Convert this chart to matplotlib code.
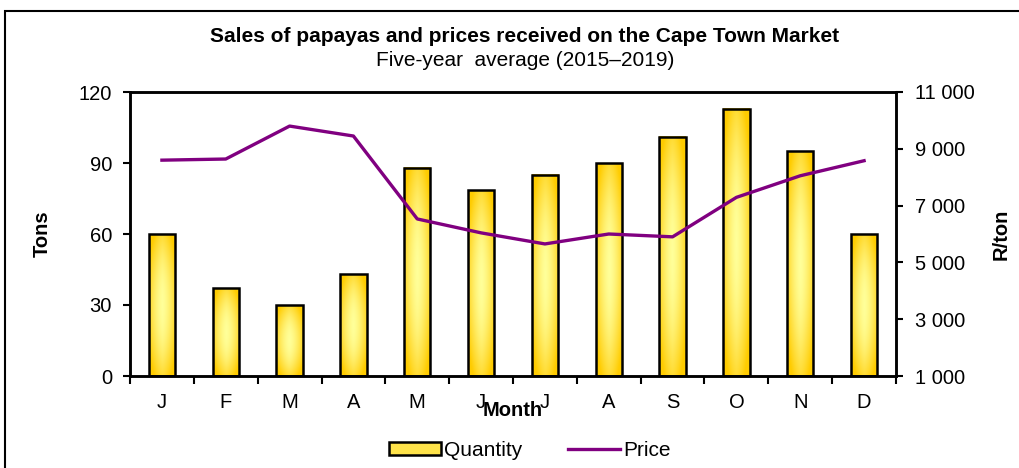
import numpy as np
import matplotlib
matplotlib.use("Agg")
import matplotlib.pyplot as plt
from matplotlib.colors import LinearSegmentedColormap
from matplotlib.patches import Rectangle
from matplotlib.lines import Line2D
from matplotlib.patches import Patch

plt.rcParams['font.family'] = ['Liberation Sans', 'DejaVu Sans']

months = ['J', 'F', 'M', 'A', 'M', 'J', 'J', 'A', 'S', 'O', 'N', 'D']
quantity = [60, 37, 30, 43, 88, 78.5, 85, 90, 101, 113, 95, 60]
price = [8600, 8640, 9800, 9450, 6530, 6040, 5650, 6000, 5900, 7290, 8050, 8580]
left_ticks = [0, 30, 60, 90, 120]
right_ticks = [1000, 3000, 5000, 7000, 9000, 11000]
right_labels = ['1 000', '3 000', '5 000', '7 000', '9 000', '11 000']

FS = 14.5

fig = plt.figure(figsize=(10.19, 4.68), dpi=100)
ax = fig.add_axes([130/1019, 1-376/468, (896-130)/1019, (376-92)/468])
ax2 = ax.twinx()
ax.set_zorder(1)
ax2.set_zorder(2)
ax.patch.set_visible(False)

x = np.arange(len(months))
bars = ax.bar(x, quantity, width=0.41, facecolor='none', edgecolor='black', linewidth=1.8, zorder=3)

cmap = LinearSegmentedColormap.from_list('gold', ['#FFFF99', '#FFE34A', '#FFCC00'])
u = np.linspace(-1, 1, 40)
v = np.linspace(-1, 1, 80)
U, V = np.meshgrid(u, v)
grad = np.clip(0.7 * np.abs(U) ** 1.5 + 0.65 * np.abs(V) ** 2, 0, 1)
for b in bars:
    x0, y0 = b.get_x(), b.get_y()
    w, h = b.get_width(), b.get_height()
    ax.imshow(grad, cmap=cmap, vmin=0, vmax=1, extent=[x0, x0 + w, y0, y0 + h],
              aspect='auto', zorder=2, interpolation='bilinear')

ax.set_xlim(-0.5, len(months) - 0.5)
ax.set_ylim(0, 120)
ax.set_yticks(left_ticks)
ax.tick_params(axis='y', labelsize=FS, length=5, width=1.5, direction='out', pad=8)
ax.set_xticks(np.arange(-0.5, len(months), 1))
ax.set_xticklabels([])
ax.tick_params(axis='x', length=6, width=1.5, direction='out')
ax.set_xticks(x, minor=True)
ax.set_xticklabels(months, minor=True)
ax.tick_params(axis='x', which='minor', length=0, labelsize=FS, pad=12)
ax.set_ylabel('Tons', fontsize=FS, fontweight='bold', labelpad=19)
ax.set_xlabel('Month', fontsize=FS, fontweight='bold', labelpad=-8)

ax2.plot(x, price, color='#800080', linewidth=2.4, zorder=4)
ax2.set_ylim(1000, 11000)
ax2.set_yticks(right_ticks)
ax2.set_yticklabels(right_labels)
ax2.tick_params(axis='y', labelsize=FS, length=5, width=1.5, direction='out', pad=9)
ax2.set_ylabel('R/ton', fontsize=FS, fontweight='bold', labelpad=12)

for a in (ax, ax2):
    for s in a.spines.values():
        s.set_linewidth(1.8)

fig.text(0.515, 1 - 37/468, 'Sales of papayas and prices received on the Cape Town Market',
         ha='center', va='center', fontsize=15, fontweight='bold')
fig.text(0.515, 1 - 60/468, 'Five-year  average (2015\u20132019)',
         ha='center', va='center', fontsize=15)

handles = [Patch(facecolor='#FFE34A', edgecolor='black', linewidth=1.8),
           Line2D([0], [0], color='#800080', linewidth=2.4)]
fig.legend(handles, ['Quantity', 'Price'], loc='center', bbox_to_anchor=(0.52, 1 - 450/468),
           ncol=2, frameon=False, fontsize=15, handlelength=2.5, handleheight=0.6,
           columnspacing=2.2, handletextpad=0.15)

fig.add_artist(Rectangle((5/1019, -0.05), 1.2, 1 - 11/468 + 0.05, transform=fig.transFigure,
                         fill=False, edgecolor='black', linewidth=1.5))

fig.savefig('out.png', dpi=100)
